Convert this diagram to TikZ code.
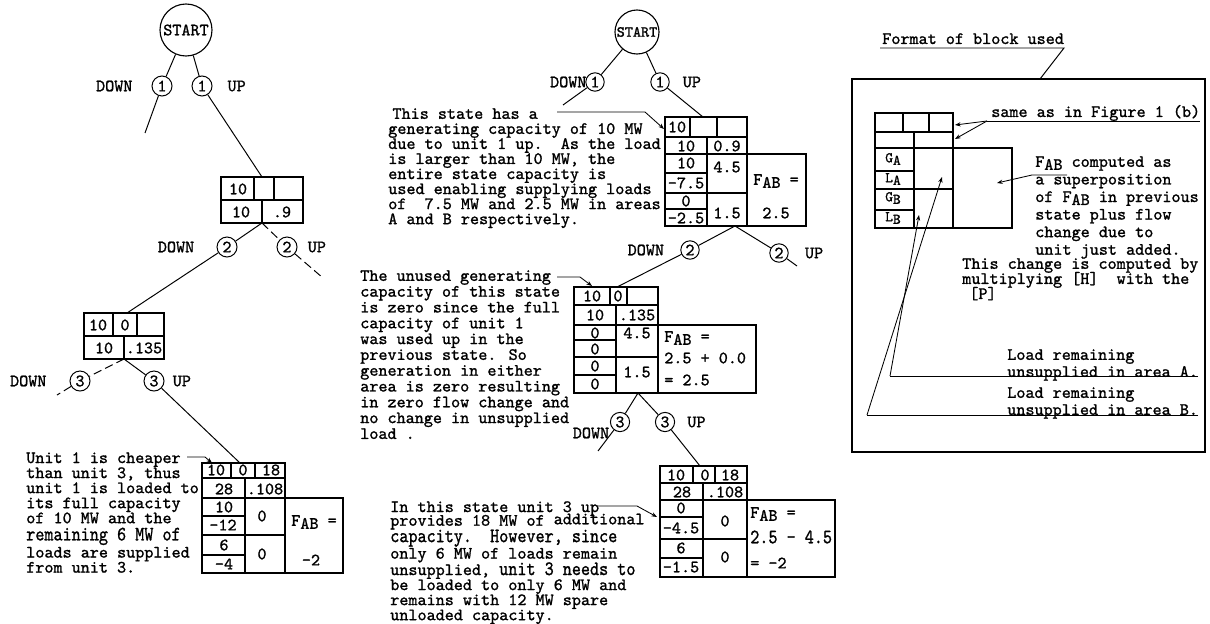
\documentclass[tikz,border=0pt]{standalone}
\usepackage{fontspec}
\usepackage{graphicx}
\usetikzlibrary{arrows.meta, positioning}

\newfontfamily\twfont{lmmono10-regular.otf}[FakeBold=1.2]
\newcommand{\tws}[1]{\fontsize{12.3}{#1}\selectfont\twfont\lineskiplimit=-50pt\relax}
\newcommand{\tw}{\tws{10.7}}
\newcommand{\sbs}[1]{\raisebox{-0.4ex}{#1}}
\newcommand{\tall}[1]{\scalebox{1}[1.18]{#1}}

\begin{document}
\begin{tikzpicture}[
    x=0.025cm, y=-0.025cm,
    edge/.style={line width=0.7pt},
    dashedge/.style={line width=0.7pt, dash pattern=on 6pt off 3pt},
    startnode/.style={circle, draw, line width=0.8pt, inner sep=1pt, font=\tw},
    branch/.style={circle, draw, line width=0.7pt, minimum size=0.5cm, inner sep=0pt, font=\tw},
    lbl/.style={font=\tw, inner sep=0pt},
    val/.style={font=\tw, inner sep=0pt},
    note/.style={font=\tw, align=left, inner sep=0pt, anchor=north west},
    cell/.style={line width=0.9pt},
    ptr/.style={line width=0.6pt, -{Stealth[length=4pt,width=3pt]}},
]
\path[use as bounding box, fill=white] (0,0) rectangle (1210,624);

% ---------------- left tree ----------------
\node (startL) [startnode, minimum size=1.3cm] at (186,30) {START};
\node (d1L) [branch] at (162,86) {1};
\node (u1L) [branch] at (202,86) {1};
\node (d1Ltxt) [lbl, left=0.47cm of d1L] {DOWN};
\node (u1Ltxt) [lbl, right=0.37cm of u1L] {UP};
\coordinate (d1Lend) at (145,133);
\coordinate (b1top) at (262,177);
\draw [edge] (startL) -- (d1L);
\draw [edge] (startL) -- (u1L);
\draw [edge] (d1L) -- (d1Lend);
\draw [edge] (u1L) -- (b1top);

% block 1
\draw [cell] (221,177) rectangle (303,223);
\draw [cell] (221,200) -- (303,200);
\draw [cell] (254,177) -- (254,200) (274,177) -- (274,200);
\draw [cell] (262,200) -- (262,223);
\node (b1g) [val] at (238,189) {10};
\node (b1c) [val] at (241,212) {10};
\node (b1p) [val] at (282,212) {.9};

\coordinate (b1bot) at (262,223);
\node (d2L) [branch] at (227,247) {2};
\node (u2L) [branch] at (287,247) {2};
\node (d2Ltxt) [lbl, left=0.55cm of d2L] {DOWN};
\node (u2Ltxt) [lbl, right=0.25cm of u2L] {UP};
\coordinate (u2Lend) at (323,278);
\coordinate (b2top) at (127,313);
\draw [edge] (b1bot) -- (d2L);
\draw [dashedge] (b1bot) -- (u2L);
\draw [dashedge] (u2L) -- (u2Lend);
\draw [edge] (d2L) -- (b2top);

% block 2
\draw [cell] (84,313) rectangle (164,359);
\draw [cell] (84,336) -- (164,336);
\draw [cell] (113,313) -- (113,336) (137,313) -- (137,336);
\draw [cell] (124,336) -- (124,359);
\node (b2g) [val] at (98,325) {10};
\node (b2u) [val] at (125,325) {0};
\node (b2c) [val] at (104,348) {10};
\node (b2p) [val] at (144,348) {.135};

\coordinate (b2bot) at (124,359);
\node (d3L) [branch] at (80,381) {3};
\node (u3L) [branch] at (154,381) {3};
\node (d3Ltxt) [lbl, left=0.57cm of d3L] {DOWN};
\node (u3Ltxt) [lbl, right=0.2cm of u3L] {UP};
\coordinate (d3Lend) at (57,395);
\coordinate (b3top) at (240,463);
\draw [dashedge] (b2bot) -- (d3L);
\draw [dashedge] (d3L) -- (d3Lend);
\draw [edge] (b2bot) -- (u3L);
\draw [edge] (u3L) -- (b3top);

% block 3
\draw [cell] (202,463) rectangle (285,498);
\draw [cell] (202,478) -- (285,478);
\draw [cell] (231,463) -- (231,478) (255,463) -- (255,478);
\draw [cell] (245,478) -- (245,498);
\draw [cell] (202,498) rectangle (343,573);
\draw [cell] (245,498) -- (245,573) (285,498) -- (285,573);
\draw [cell] (202,516) -- (245,516) (202,535) -- (285,535) (202,555) -- (245,555);
\node (b3g1) [val] at (216,470) {10};
\node (b3g2) [val] at (243,470) {0};
\node (b3g3) [val] at (271,470) {18};
\node (b3c) [val] at (224,489) {28};
\node (b3p) [val] at (265,489) {.108};
\node (b3ga) [val] at (224,507) {10};
\node (b3la) [val] at (223,525) {-12};
\node (b3gb) [val] at (224,545) {6};
\node (b3lb) [val] at (224,564) {-4};
\node (b3ha) [val] at (262,516) {0};
\node (b3hb) [val] at (262,554) {0};
\node (b3f) [val] at (314,522) {F\sbs{AB} =};
\node (b3fv) [val] at (311,560) {-2};

\node (noteL) [note] at (26,452) {Unit 1 is cheaper\\
than unit 3, thus\\
unit 1 is loaded to\\
its full capacity\\
of 10 MW and the\\[1.5pt]
\tall{remaining 6 MW of}\\[1.5pt]
loads are supplied\\
from unit 3.};
\coordinate (noteLa) at (187,457);
\coordinate (b3in) at (212,463);
\draw [ptr] (noteLa) -- ++(18,0) -- (b3in);

% ---------------- middle tree ----------------
\node (startM) [startnode, minimum size=1.1cm, inner sep=0.5pt, font=\fontsize{11}{11}\selectfont\twfont] at (637,32) {START};
\node (d1M) [branch, minimum size=0.46cm] at (595,82) {1};
\node (u1M) [branch, minimum size=0.46cm] at (660,82) {1};
\node (d1Mtxt) [lbl, left=-1pt of d1M] {DOWN};
\node (u1Mtxt) [lbl, right=0.32cm of u1M] {UP};
\coordinate (d1Mend) at (563,105);
\coordinate (m1top) at (703,117);
\draw [edge] (startM) -- (d1M);
\draw [edge] (startM) -- (u1M);
\draw [edge] (d1M) -- (d1Mend);
\draw [edge] (u1M) -- (m1top);

% block M1
\draw [cell] (665,117) rectangle (747,154);
\draw [cell] (665,137) -- (747,137);
\draw [cell] (690,117) -- (690,137) (717,117) -- (717,137);
\draw [cell] (707,137) -- (707,154);
\draw [cell] (665,154) rectangle (806,226);
\draw [cell] (707,154) -- (707,226) (747,154) -- (747,226);
\draw [cell] (665,173) -- (707,173) (665,193) -- (747,193) (665,209) -- (707,209);
\node (m1g) [val] at (677,127) {10};
\node (m1c) [val] at (686,146) {10};
\node (m1p) [val] at (727,146) {0.9};
\node (m1ga) [val] at (686,163) {10};
\node (m1la) [val] at (686,183) {-7.5};
\node (m1gb) [val] at (686,201) {0};
\node (m1lb) [val] at (686,218) {-2.5};
\node (m1ha) [val] at (727,167) {4.5};
\node (m1hb) [val] at (727,213) {1.5};
\node (m1f) [val] at (776,181) {F\sbs{AB} =};
\node (m1fv) [val] at (776,213) {2.5};

\node (noteM1) [note] at (388,108) {\hspace{3pt}This state has a\\
generating capacity of 10 MW\\
due to unit 1 up.\ \ As the load\\
is larger than 10 MW, the\\
entire state capacity is\\
used enabling supplying loads\\
of\ \ 7.5 MW and 2.5 MW in areas\\
A and B respectively.};
\coordinate (noteM1a) at (557,112);
\coordinate (m1in) at (664,129);
\draw [ptr] (noteM1a) -- (645,112) -- (m1in);

\coordinate (m1bot) at (735,226);
\node (d2M) [branch, minimum size=0.46cm] at (690,250) {2};
\node (u2M) [branch, minimum size=0.46cm] at (779,253) {2};
\node (d2Mtxt) [lbl, left=0.4cm of d2M] {DOWN};
\node (u2Mtxt) [lbl, right=0.4cm of u2M] {UP};
\coordinate (u2Mend) at (797,266);
\coordinate (m2top) at (617,287);
\draw [edge] (m1bot) -- (d2M);
\draw [edge] (m1bot) -- (u2M);
\draw [edge] (u2M) -- (u2Mend);
\draw [edge] (d2M) -- (m2top);

% block M2
\draw [cell] (574,287) rectangle (658,325);
\draw [cell] (574,305) -- (658,305);
\draw [cell] (610,287) -- (610,305) (627,287) -- (627,305);
\draw [cell] (616,305) -- (616,325);
\draw [cell] (574,325) rectangle (756,393);
\draw [cell] (616,325) -- (616,393) (658,325) -- (658,393);
\draw [cell] (574,340) -- (616,340) (574,357) -- (658,357) (574,375) -- (616,375);
\node (m2g1) [val] at (592,296) {10};
\node (m2g2) [val] at (618,296) {0};
\node (m2c) [val] at (595,315) {10};
\node (m2p) [val] at (637,315) {.135};
\node (m2ga) [val] at (595,333) {0};
\node (m2la) [val] at (595,349) {0};
\node (m2gb) [val] at (595,366) {0};
\node (m2lb) [val] at (595,384) {0};
\node (m2ha) [val] at (637,333) {4.5};
\node (m2hb) [val] at (637,372) {1.5};
\node (m2f) [val, anchor=west] at (664,338) {F\sbs{AB} =};
\node (m2f2) [val, anchor=west] at (664,358) {2.5 + 0.0};
\node (m2fv) [val, anchor=west] at (664,380) {= 2.5};

\node (noteM2) [note, font=\tws{11.24}] at (360,270) {The unused generating\\
capacity of this state\\
is zero since the full\\
capacity of unit 1\\
was used up in the\\
previous state. So\\
generation in either\\
area is zero resulting\\
in zero flow change and\\
no change in unsupplied\\
load .};
\coordinate (noteM2a) at (557,277);
\coordinate (m2in) at (592,286);
\draw [ptr] (noteM2a) -- (580,277) -- (m2in);

\coordinate (m2bot) at (638,393);
\node (d3M) [branch, minimum size=0.48cm] at (620,422) {3};
\node (u3M) [branch, minimum size=0.48cm] at (665,422) {3};
\node (d3Mtxt) [lbl] at (591,433) {DOWN};
\node (u3Mtxt) [lbl, right=0.3cm of u3M] {UP};
\coordinate (d3Mend) at (598,451);
\coordinate (m3top) at (700,466);
\draw [edge] (m2bot) -- (d3M);
\draw [edge] (m2bot) -- (u3M);
\draw [edge] (d3M) -- (d3Mend);
\draw [edge] (u3M) -- (m3top);

% block M3
\draw [cell] (660,466) rectangle (747,500);
\draw [cell] (660,483) -- (747,483);
\draw [cell] (693,466) -- (693,483) (715,466) -- (715,483);
\draw [cell] (703,483) -- (703,500);
\draw [cell] (660,500) rectangle (835,577);
\draw [cell] (703,500) -- (703,577) (747,500) -- (747,577);
\draw [cell] (660,517) -- (703,517) (660,539) -- (747,539) (660,558) -- (703,558);
\node (m3g1) [val] at (676,475) {10};
\node (m3g2) [val] at (705,475) {0};
\node (m3g3) [val] at (730,475) {18};
\node (m3c) [val] at (682,492) {28};
\node (m3p) [val] at (725,492) {.108};
\node (m3ga) [val] at (681,508) {0};
\node (m3la) [val] at (681,528) {-4.5};
\node (m3gb) [val] at (681,548) {6};
\node (m3lb) [val] at (681,567) {-1.5};
\node (m3ha) [val] at (725,521) {0};
\node (m3hb) [val] at (725,557) {0};
\node (m3f) [val, anchor=west] at (750,514) {F\sbs{AB} =};
\node (m3f2) [val, anchor=west] at (750,537) {\tall{2.5 - 4.5}};
\node (m3fv) [val, anchor=west] at (750,563) {= -2};

\node (noteM3) [note] at (390,501) {In this state unit 3 up\\[-1pt]
provides 18 MW of \raisebox{1pt}{additional}\\[1pt]
\tall{capacity.\ \ However, since}\\[1pt]
only 6 MW of loads remain\\[1pt]
unsupplied, \tall{unit 3 needs to}\\
be loaded to only 6 MW and\\
remains with 12 MW spare\\
unloaded capacity.};
\coordinate (noteM3a) at (598,506);
\coordinate (m3in) at (657,517);
\draw [ptr] (noteM3a) -- (637,506) -- (m3in);

% ---------------- format of block ----------------
\node (fmt) [lbl, anchor=base west] at (882,44) {Format of block used};
\coordinate (fmtL) at (880,48);
\coordinate (fmtR) at (1064,48);
\coordinate (frametop) at (1040,79);
\draw [edge] (fmtL) -- (fmtR) -- (frametop);
\draw [line width=1pt] (852,79) rectangle (1205,452);

% small block
\draw [cell] (875,113) rectangle (953,148);
\draw [cell] (875,132) -- (953,132);
\draw [cell] (903,113) -- (903,132) (929,113) -- (929,132);
\draw [cell] (914,132) -- (914,148);
\draw [cell] (875,148) rectangle (1012,228);
\draw [cell] (914,148) -- (914,228) (953,148) -- (953,228);
\draw [cell] (875,171) -- (914,171) (875,189) -- (953,189) (875,210) -- (914,210);
\node (fga) [val, font=\fontsize{10.5}{10.5}\selectfont\twfont] at (893,159) {G\sbs{A}};
\node (fla) [val, font=\fontsize{10.5}{10.5}\selectfont\twfont] at (893,179) {L\sbs{A}};
\node (fgb) [val, font=\fontsize{10.5}{10.5}\selectfont\twfont] at (893,198) {G\sbs{B}};
\node (flb) [val, font=\fontsize{10.5}{10.5}\selectfont\twfont] at (893,218) {L\sbs{B}};

\node (same) [lbl, anchor=base west] at (991,117) {same as in Figure 1 (b)};
\coordinate (sameL) at (987,121);
\coordinate (sameR) at (1200,121);
\draw [edge] (sameL) -- (sameR);
\draw [ptr] (sameL) -- (955,125);
\draw [ptr] (sameL) -- (955,139);

\node (fabnote) [note, font=\tws{12.5}] at (1035,156) {F\sbs{AB} computed as\\
a superposition\\
of F\sbs{AB} in previous\\
state plus flow\\
change due to\\
unit just added.};
\coordinate (fabR) at (1067,175);
\coordinate (fabL) at (1032,175);
\coordinate (fabin) at (997,183);
\draw [ptr] (fabR) -- (fabL) -- (fabin);

\node (hpnote) [note] at (962,258) {This change is computed by\\
multiplying [H]\ \ with the\\
\hspace{5pt}[P]};

\node (lanote) [note, font=\tws{12.1}] at (1007,349) {Load remaining\\
unsupplied in area A.};
\coordinate (laL) at (890,376);
\coordinate (laR) at (1198,376);
\coordinate (lain) at (919,215);
\draw [edge] (laR) -- (laL);
\draw [ptr] (laL) -- (lain);

\node (lbnote) [note, font=\tws{12.1}] at (1007,387) {Load remaining\\
unsupplied in area B.};
\coordinate (lbL) at (867,415);
\coordinate (lbR) at (1198,415);
\coordinate (lbin) at (942,177);
\draw [edge] (lbR) -- (lbL);
\draw [ptr] (lbL) -- (lbin);

\end{tikzpicture}
\end{document}
